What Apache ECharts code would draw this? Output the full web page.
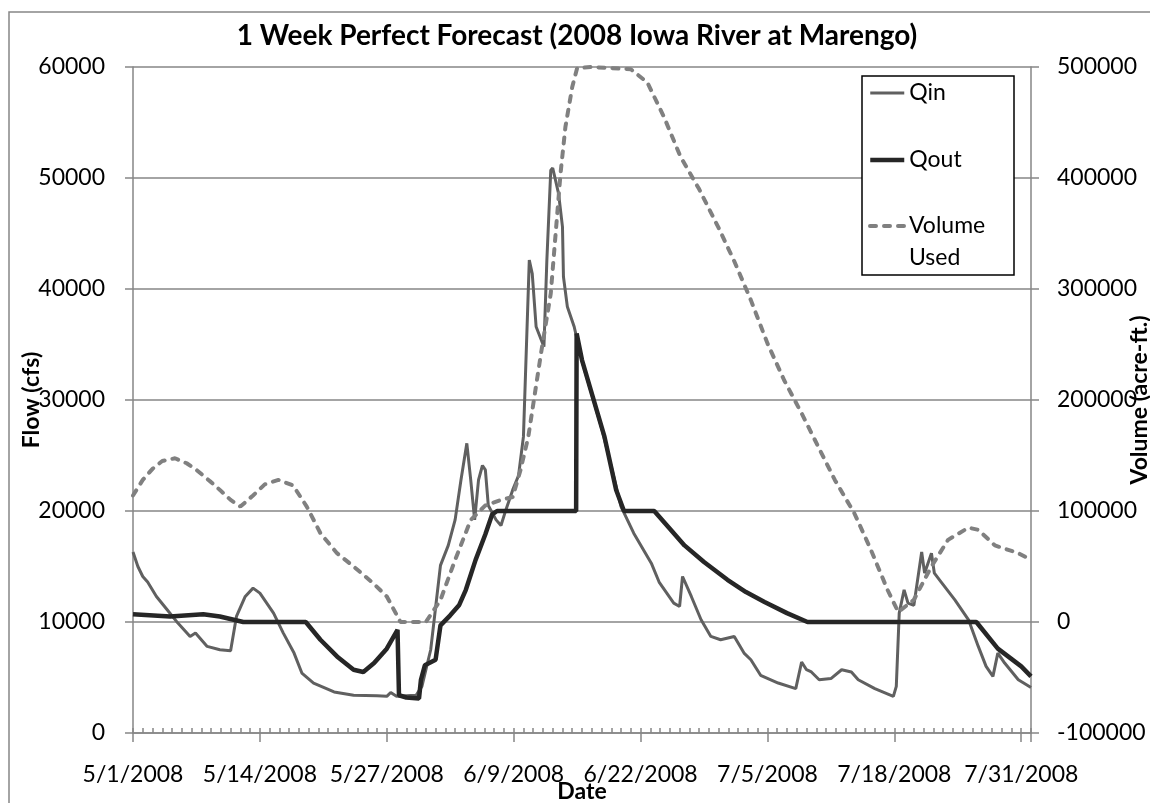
<!DOCTYPE html>
<html>
<head>
<meta charset="utf-8">
<title>1 Week Perfect Forecast (2008 Iowa River at Marengo)</title>
<script src="https://cdn.jsdelivr.net/npm/echarts@6/dist/echarts.min.js"></script>
<style>
  html, body { margin: 0; padding: 0; background: #fff; }
  #chart { width: 1150px; height: 803px; }
</style>
</head>
<body>
<div id="chart"></div>
<script>
// x values are days counted from 5/1/2008
const dateLabels = ['5/1/2008', '5/14/2008', '5/27/2008', '6/9/2008', '6/22/2008', '7/5/2008', '7/18/2008', '7/31/2008'];

const qinDays = [0, 0.5, 1, 1.5, 2.4, 3.5, 4.6, 5.85, 6.4, 7.6, 8.9, 10, 10.6, 11.5, 12.3, 13, 14.4, 15.4, 16.5, 17.3,
  18.5, 20.6, 22.6, 25, 26, 26.4, 27, 28, 29, 29.6, 30.5, 31.5, 32.3, 33, 33.6, 34.2, 34.6, 35, 35.4, 35.8,
  36.1, 36.4, 37.2, 37.7, 38.2, 38.9, 39.5, 40, 40.6, 40.9, 41.3, 42.1, 42.4, 42.8, 43, 43.6, 44, 44.1,
  44.5, 45.2, 46, 47, 48, 49, 50, 51.3, 53.1, 53.9, 55.4, 56, 56.3, 57.2, 58.2, 59.2, 60.2, 61.6, 62.6, 63.3,
  64.3, 66.1, 67.9, 68.5, 69, 69.5, 70.3, 71.5, 72.6, 73.6, 74.3, 76, 77.9, 78.2, 78.5, 79, 79.4, 80, 80.8, 81.1,
  81.8, 82.1, 82.8, 84.2, 85.6, 86.6, 87.4, 88.1, 88.6, 89.3, 90.7, 92];
const qinFlow = [16300, 15000, 14100, 13600, 12300, 11100, 9900, 8700, 9000, 7800, 7500, 7400, 10500, 12300, 13050, 12600, 10800, 9000, 7200, 5400,
  4500, 3700, 3400, 3350, 3300, 3650, 3300, 3350, 3400, 4200, 7500, 15100, 16900, 19200, 22800, 26100, 22800, 19200, 22800, 24100,
  23700, 20500, 19200, 18700, 20100, 21900, 23200, 26700, 42600, 41400, 36600, 34800, 42600, 50700, 50900, 48600, 45600, 41100,
  38400, 36600, 33500, 30500, 27500, 24000, 20400, 18000, 15300, 13600, 11700, 11400, 14100, 12300, 10200, 8700, 8400, 8700, 7200, 6600,
  5200, 4500, 4000, 6400, 5700, 5500, 4800, 4900, 5700, 5500, 4800, 4000, 3300, 4200, 10800, 12900, 11700, 11500, 16300, 14400,
  16200, 14400, 13600, 12000, 10200, 7800, 6000, 5100, 7200, 6300, 4800, 4100];

const qoutDays = [0, 3.8, 7.2, 8.9, 11.3, 17.7, 19.2, 20.9, 22.6, 23.6, 24.7, 26, 27.1, 27.25, 28, 29.3, 29.5, 29.9, 31, 31.5,
  32.5, 33.4, 34.1, 35.1, 36.1, 36.8, 37.3, 45.4, 45.45, 46, 47.3, 48.3, 49.5, 50.3, 53.4, 55, 56.5, 58.5, 60.9, 62.8,
  64.7, 67, 69.1, 86.4, 88.6, 91, 92];
const qoutFlow = [10700, 10500, 10700, 10500, 10000, 10000, 8400, 6900, 5700, 5500, 6300, 7600, 9300, 3400, 3200, 3100, 4800, 6100, 6600, 9700,
  10600, 11500, 12900, 15600, 17900, 19700, 20000, 20000, 36000, 33600, 29700, 26700, 21900, 20000, 20000, 18400, 16900, 15400, 13800, 12700,
  11800, 10800, 10000, 10000, 7600, 6000, 5100];

const volDays = [0, 1, 2, 3, 4.3, 5.5, 6.5, 8, 8.9, 10, 11, 12.3, 13.5, 14.9, 16.4, 17.8, 19.2, 20.9, 22.6, 24.6,
  26, 27.4, 30, 31.5, 33, 34.6, 36.1, 37.7, 38.9, 39.7, 40.5, 41.8, 42.8, 43.3, 43.8, 44.3,
  45, 45.5, 47, 49, 51, 52.7, 54.4, 56.1, 58, 60, 61.6, 63.3, 65, 66.7, 68.5, 70.2, 71.9, 73.9, 75.6, 77.3,
  78.4, 80, 81.8, 83.5, 85.6, 86.6, 88.3, 90.7, 92];
const volUsed = [114000, 128000, 138000, 145000, 147500, 143000, 137000, 126000, 119000, 110000, 104000, 114000, 124000, 128000, 123000, 104000, 80000, 62000, 50000, 35000,
  23000, 0, 0, 19800, 55900, 91900, 105000, 110000, 112600, 136900, 167000, 242000, 296000, 350000, 404000, 446000,
  482000, 499000, 500000, 499000, 498000, 486000, 455000, 419000, 390000, 355000, 325000, 290000, 251000, 218000, 188000, 158000, 128000, 98000, 65000, 29000,
  9000, 20000, 50000, 74000, 85000, 83000, 69000, 62000, 56000];

const FONT = 'Lato, "Noto Sans", sans-serif';
const GRID_COLOR = '#868686';

function pairs(xs, ys) {
  return xs.map((x, i) => [x, ys[i]]);
}

const chart = echarts.init(document.getElementById('chart'));

const gridBox = { left: 133, right: 119, top: 67, bottom: 70, outerBoundsMode: 'none', containLabel: false };
const axisNameStyle = { fontFamily: FONT, fontSize: 23, fontWeight: 'bold', color: '#000' };
const legendText = { fontFamily: FONT, fontSize: 23, color: '#000', lineHeight: 32 };

const option = {
  animation: false,
  backgroundColor: '#fff',
  textStyle: { fontFamily: FONT },
  title: {
    text: '1 Week Perfect Forecast (2008 Iowa River at Marengo)',
    left: 572,
    top: 17,
    textAlign: 'center',
    textStyle: { fontFamily: FONT, fontSize: 28, fontWeight: 'bold', color: '#000' }
  },
  graphic: [{
    type: 'rect',
    shape: { x: 9, y: 12, width: 1300, height: 900 },
    style: { fill: 'none', stroke: GRID_COLOR, lineWidth: 1.5 },
    silent: true
  }, {
    // legend frame
    type: 'rect',
    z: 3,
    shape: { x: 862, y: 76, width: 152, height: 199 },
    style: { fill: '#fff', stroke: '#000', lineWidth: 1.5 },
    silent: true
  }],
  legend: [{
    orient: 'vertical',
    left: 862,
    top: 76,
    padding: [1, 0, 1, 6],
    itemWidth: 34,
    itemHeight: 14,
    itemGap: 35,
    itemStyle: { opacity: 0 },
    lineStyle: { width: 'inherit' },
    textStyle: legendText,
    data: ['Qin', 'Qout']
  }, {
    orient: 'vertical',
    left: 862,
    top: 178,
    padding: [0, 0, 0, 6],
    itemWidth: 34,
    itemHeight: 14,
    itemStyle: { opacity: 0 },
    lineStyle: { width: 'inherit' },
    textStyle: legendText,
    formatter: () => ' \nVolume\nUsed',
    data: ['Volume Used']
  }],
  grid: [Object.assign({}, gridBox), Object.assign({}, gridBox)],
  xAxis: [{
    type: 'value',
    gridIndex: 0,
    min: 0,
    max: 92,
    interval: 13,
    name: 'Date',
    nameLocation: 'middle',
    nameGap: 47,
    nameMoveOverlap: false,
    nameTextStyle: axisNameStyle,
    axisLine: { lineStyle: { color: GRID_COLOR, width: 1.5 } },
    axisTick: { length: 9, lineStyle: { color: GRID_COLOR, width: 1.5 } },
    axisLabel: {
      margin: 30,
      fontFamily: FONT,
      fontSize: 23,
      color: '#000',
      formatter: v => (v % 13 === 0 ? dateLabels[v / 13] : '')
    },
    splitLine: { show: false }
  }, {
    // daily minor ticks drawn inward
    type: 'value',
    gridIndex: 1,
    min: 0,
    max: 92,
    interval: 1,
    axisLine: { show: false },
    axisLabel: { show: false },
    splitLine: { show: false },
    axisTick: { inside: true, length: 5, lineStyle: { color: GRID_COLOR, width: 1.5 } }
  }],
  yAxis: [{
    type: 'value',
    gridIndex: 0,
    min: 0,
    max: 60000,
    interval: 10000,
    name: 'Flow (cfs)',
    nameLocation: 'middle',
    nameRotate: 90,
    nameGap: 90,
    nameMoveOverlap: false,
    nameTextStyle: axisNameStyle,
    axisLine: { show: true, lineStyle: { color: GRID_COLOR, width: 1.5 } },
    axisTick: { show: true, length: 8, lineStyle: { color: GRID_COLOR, width: 1.5 } },
    axisLabel: { margin: 28, fontFamily: FONT, fontSize: 23, color: '#000', formatter: v => String(v) },
    splitLine: { lineStyle: { color: GRID_COLOR, width: 1.5 } }
  }, {
    type: 'value',
    gridIndex: 0,
    position: 'right',
    min: -100000,
    max: 500000,
    interval: 100000,
    name: 'Volume (acre-ft.)',
    nameLocation: 'middle',
    nameRotate: 90,
    nameGap: 97,
    nameMoveOverlap: false,
    nameTextStyle: axisNameStyle,
    axisLine: { show: true, lineStyle: { color: GRID_COLOR, width: 1.5 } },
    axisTick: { show: true, length: 8, lineStyle: { color: GRID_COLOR, width: 1.5 } },
    axisLabel: { margin: 26, fontFamily: FONT, fontSize: 23, color: '#000', formatter: v => String(v) },
    splitLine: { show: false }
  }, {
    type: 'value',
    gridIndex: 1,
    show: false
  }],
  series: [{
    name: 'Qin',
    type: 'line',
    xAxisIndex: 0,
    yAxisIndex: 0,
    symbol: 'none',
    data: pairs(qinDays, qinFlow),
    lineStyle: { color: '#606060', width: 3 },
    itemStyle: { color: '#606060' }
  }, {
    name: 'Qout',
    type: 'line',
    xAxisIndex: 0,
    yAxisIndex: 0,
    symbol: 'none',
    data: pairs(qoutDays, qoutFlow),
    lineStyle: { color: '#262626', width: 4.5 },
    itemStyle: { color: '#262626' }
  }, {
    name: 'Volume Used',
    type: 'line',
    xAxisIndex: 0,
    yAxisIndex: 1,
    symbol: 'none',
    data: pairs(volDays, volUsed),
    lineStyle: { color: '#808080', width: 4, type: [6, 8], cap: 'round' },
    itemStyle: { color: '#808080' }
  }]
};

chart.setOption(option);
</script>
</body>
</html>
